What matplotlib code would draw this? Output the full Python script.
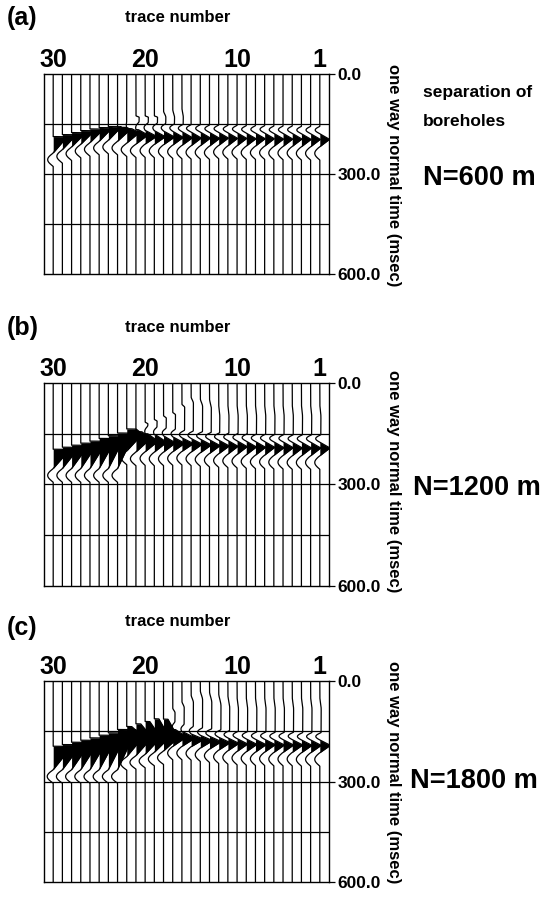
import numpy as np
import matplotlib
matplotlib.use("Agg")
import matplotlib.pyplot as plt

plt.rcParams['font.family'] = ['Liberation Sans', 'DejaVu Sans']
plt.rcParams['font.weight'] = 'bold'

# ---------------------------------------------------------------- data
# one value per trace, trace 1 first ... trace 30 last
# onset = start of the black (positive) lobe in msec, jump = part of the amplitude
# reached at once, rise / fall = msec up to and down from the peak,
# amp = peak in trace spacings, pre / post = side lobes,
# drift = small early shift of the trace (start time, width, size)

trace_no = np.arange(1, 31)
panel_names = ['(a)', '(b)', '(c)']
separations = ['N=600 m', 'N=1200 m', 'N=1800 m']
time_ticks = [0, 300, 600]
time_labels = ['0.0', '300.0', '600.0']
trace_ticks = [30, 20, 10, 1]

a_onset = [179, 179, 179, 178, 178, 178, 177, 177, 177, 176,
           176, 175, 175, 174, 174, 173, 172, 171, 170, 169,
           167, 164, 160, 158, 161, 165, 170, 176, 182, 188]
a_jump = [0] * 20 + [0.2, 0.4, 0.7, 1, 1, 1, 1, 1, 1, 1]
a_rise = [17] * 12 + [18] * 8 + [16, 12, 6, 1, 1, 1, 1, 1, 1, 1]
a_fall = [22] * 12 + [23] * 8 + [27, 31, 36, 40, 40, 40, 40, 42, 44, 48]
a_amp = [1.05] * 10 + [1.05, 1.05, 1.1, 1.1, 1.1, 1.15, 1.15, 1.2, 1.2, 1.25,
                       1.3, 1.35, 1.4, 1.4, 1.4, 1.45, 1.45, 1.5, 1.5, 1.5]
a_pre = [0.5] * 15 + [0.45, 0.4, 0.35, 0.3, 0.25, 0.15, 0.05] + [0] * 8
a_post = [0.55] * 20 + [0.6] * 10
a_drift_t = [0] * 15 + [100, 105, 110, 125, 125, 125] + [0] * 9
a_drift_w = [10] * 15 + [30, 25, 20, 5, 5, 5] + [10] * 9
a_drift = [0] * 15 + [0.15, 0.2, 0.25, 0.35, 0.35, 0.35] + [0] * 9

b_onset = [175, 175, 175, 175, 174, 174, 173, 173, 172, 171,
           170, 169, 168, 166, 164, 162, 159, 156, 153, 150,
           144, 136, 148, 156, 164, 172, 178, 184, 190, 196]
b_jump = [0] * 18 + [0.1, 0.2, 0.4, 0.6] + [1] * 8
b_rise = [17] * 16 + [19, 21, 22, 22, 20, 15] + [1] * 8
b_fall = [23] * 16 + [25, 27, 29, 31, 40, 50,
                      104, 96, 88, 80, 74, 68, 62, 56]
b_amp = [1.1] * 10 + [1.1, 1.15, 1.15, 1.2, 1.2, 1.25, 1.3, 1.3, 1.35, 1.4,
                      1.6, 1.7, 1.8, 1.8, 1.8, 1.8, 1.8, 1.8, 1.8, 1.8]
b_pre = [0.5] * 14 + [0.45, 0.4, 0.3, 0.25, 0.2, 0.15] + [0] * 10
b_post = [0.55] * 20 + [0.6] * 10
b_drift_t = [60] * 12 + [45, 45, 40, 62, 86, 96, 107, 115] + [0] * 10
b_drift_w = [40] * 12 + [30, 25, 20, 10, 8, 8, 6, 6] + [10] * 10
b_drift = [0.12] * 12 + [0.2, 0.25, 0.25, 0.3, 0.3, 0.3, 0.3, 0.3] + [0] * 10

c_onset = [176, 176, 176, 175, 175, 175, 174, 174, 173, 172,
           170, 168, 165, 162, 158, 152, 145,
           114, 113, 121, 128, 136,
           145, 155, 162, 170, 177, 183, 190, 195]
c_jump = [0] * 15 + [0.1, 0.2] + [0.3] * 5 + [1] * 8
c_rise = [16] * 15 + [18, 22, 55, 55, 48, 40, 30] + [1] * 8
c_fall = [22] * 15 + [25, 28, 40, 45, 50, 55, 60,
                      119, 109, 102, 94, 87, 81, 74, 69]
c_amp = [1.15] * 10 + [1.2, 1.25, 1.3, 1.35, 1.4, 1.45, 1.5,
                       1.6, 1.65, 1.7, 1.75, 1.8] + [2.0] * 8
c_pre = [0.5] * 13 + [0.4, 0.3, 0.2, 0.15] + [0] * 13
c_post = [0.55] * 17 + [0.65] * 13
c_drift_t = [45] * 10 + [40, 35, 30, 27, 40, 60, 80] + [0] * 13
c_drift_w = [40] * 10 + [40, 40, 35, 30, 25, 20, 15] + [10] * 13
c_drift = [0.15] * 10 + [0.2, 0.25, 0.25, 0.25, 0.25, 0.25, 0.25] + [0] * 13

panels = [
    (a_onset, a_jump, a_rise, a_fall, a_amp, a_pre, a_post, a_drift_t, a_drift_w, a_drift),
    (b_onset, b_jump, b_rise, b_fall, b_amp, b_pre, b_post, b_drift_t, b_drift_w, b_drift),
    (c_onset, c_jump, c_rise, c_fall, c_amp, c_pre, c_post, c_drift_t, c_drift_w, c_drift),
]

# pixel layout of the page
box_top = [74, 383, 681]
box_bot = [274, 586, 882]
label_y = [18, 328, 628]
title_y = [18, 327, 621]
ylab_y = [175, 481, 772]
sep_x = [423, 413, 410]
sep_y = [178, 488, 781]
box_left, box_right = 44, 329
W, H = 552, 897


def trace_curve(t, on, jump, rise, fall, amp, pre, post, dt, dw, da):
    pk = on + rise
    end = pk + fall
    lobe = np.zeros_like(t)
    up = (t >= on) & (t < pk)
    lobe[up] = amp * (jump + (1 - jump) * (t[up] - on) / rise)
    down = (t >= pk) & (t <= end)
    lobe[down] = amp * (1 - (t[down] - pk) / fall)
    side = np.zeros_like(t)
    w1 = 22
    m = (t > on - w1) & (t < on)
    side[m] -= pre * np.sin(np.pi * (t[m] - on + w1) / w1)
    w2 = 40
    m = (t > end) & (t < end + w2)
    side[m] -= post * np.sin(np.pi * (t[m] - end) / w2)
    if da > 0:
        r = np.clip((t - dt) / dw, 0, 1)
        r = r * r * (3 - 2 * r)
        f = np.clip((on - t) / 25.0, 0, 1)
        side += da * r * f
    return lobe, lobe + side


fig = plt.figure(figsize=(W / 100, H / 100), dpi=100)
t = np.arange(0, 600.25, 0.25)

for k in range(3):
    top, bot = box_top[k], box_bot[k]
    ax = fig.add_axes([box_left / W, 1 - bot / H,
                       (box_right - box_left) / W, (bot - top) / H])

    for i in range(29, -1, -1):
        n = trace_no[i]
        params = [p[i] for p in panels[k]]
        lobe, s = trace_curve(t, *params)
        ax.fill_betweenx(t, n, n - s, where=(lobe > 0) & (s > 0),
                         color='black', lw=0, interpolate=True)
        ax.plot(n - s, t, color='black', lw=0.9)

    for h in [150, 300, 450]:
        ax.axhline(h, color='black', lw=0.9)

    ax.set_xlim(31, 0)
    ax.set_ylim(600, 0)
    for sp in ax.spines.values():
        sp.set_linewidth(1.0)

    ax.xaxis.tick_top()
    ax.set_xticks(trace_ticks)
    ax.set_xticklabels([str(v) for v in trace_ticks], fontsize=18, fontweight='bold')
    ax.tick_params(axis='x', length=0, pad=1.5)

    ax.yaxis.tick_right()
    ax.set_yticks(time_ticks)
    ax.set_yticklabels(time_labels, fontsize=12.5, fontweight='bold')
    ax.tick_params(axis='y', length=4, width=0.9, pad=2)

    # texts around the panel
    fig.text(7 / W, 1 - label_y[k] / H, panel_names[k], fontsize=18,
             fontweight='bold', ha='left', va='center')
    fig.text(178 / W, 1 - title_y[k] / H, 'trace number', fontsize=12,
             fontweight='bold', ha='center', va='center')
    fig.text(393 / W, 1 - ylab_y[k] / H, 'one way normal time (msec)',
             fontsize=12, fontweight='bold', rotation=-90,
             ha='center', va='center')
    fig.text(sep_x[k] / W, 1 - sep_y[k] / H, separations[k], fontsize=19.5,
             fontweight='bold', ha='left', va='center')

fig.text(423 / W, 1 - 92 / H, 'separation of', fontsize=12.5,
         fontweight='bold', ha='left', va='center')
fig.text(423 / W, 1 - 121 / H, 'boreholes', fontsize=12.5,
         fontweight='bold', ha='left', va='center')

fig.savefig('out.png', dpi=100)
